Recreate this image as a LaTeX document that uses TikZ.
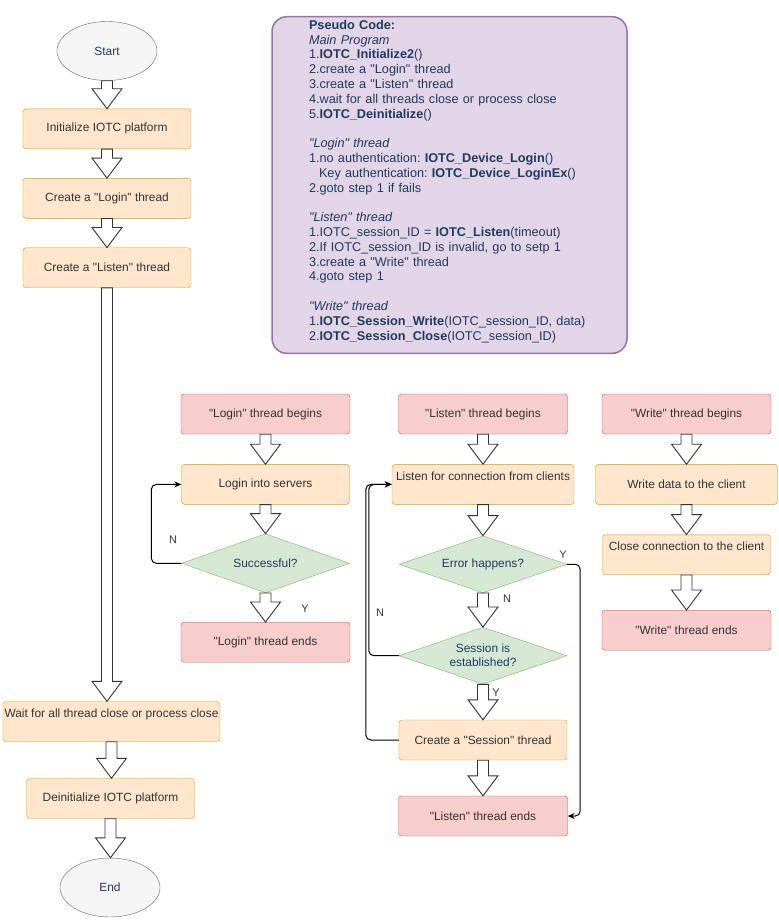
\documentclass[tikz,border=0pt]{standalone}
\usepackage{fontspec}
\setmainfont{Liberation Sans}
\frenchspacing
\usetikzlibrary{calc,positioning,shapes.geometric,arrows.meta}

\definecolor{orangefill}{HTML}{FFE6CC}
\definecolor{orangeline}{HTML}{D79B00}
\definecolor{redfill}{HTML}{F8CECC}
\definecolor{redline}{HTML}{B85450}
\definecolor{greenfill}{HTML}{D5E8D4}
\definecolor{greenline}{HTML}{82B366}
\definecolor{purplefill}{HTML}{E1D5E7}
\definecolor{purpleline}{HTML}{9673A6}
\definecolor{grayfill}{HTML}{F5F5F5}
\definecolor{grayline}{HTML}{666666}
\definecolor{txtgray}{HTML}{333333}
\definecolor{txtnavy}{HTML}{1F3A5F}

\newcommand{\dq}{\textquotedbl}
% hollow block arrow from the bottom of #1 to the top of #2
\newcommand{\flowarrow}[2]{%
  \draw[flowarrow] ($(#1.south)+(-5.5,0)$) -- ($(#1.south |- #2.north)+(-5.5,-20)$) -- ++(-9.5,0)
    -- (#1.south |- #2.north) -- ($(#1.south |- #2.north)+(15,-20)$) -- ++(-9.5,0)
    -- ($(#1.south)+(5.5,0)$) -- cycle;}

\begin{document}
\begin{tikzpicture}[
  x=1pt,y=-1pt,
  every node/.style={font=\fontsize{11.9}{14}\selectfont},
  procbox/.style={rectangle,rounded corners=3pt,draw=orangeline,fill=orangefill,text=txtgray,
    minimum width=168pt,minimum height=40pt,inner xsep=1pt,align=center},
  termbox/.style={rectangle,rounded corners=3pt,draw=redline,fill=redfill,text=txtgray,
    minimum width=169pt,minimum height=40pt,inner xsep=1pt,align=center},
  toptext/.style={text depth=16.5pt},
  decision/.style={diamond,aspect=2.8,draw=greenline,fill=greenfill,text=txtnavy,
    minimum width=168pt,minimum height=59pt,inner sep=0pt,align=center},
  startend/.style={ellipse,draw=grayline,fill=grayfill,text=txtnavy,
    minimum width=100pt,minimum height=59pt},
  codebox/.style={rectangle,rounded corners=15pt,draw=purpleline,line width=1.5pt,fill=purplefill,
    text=txtnavy,text width=281pt,inner xsep=37pt,minimum height=336pt,align=left,
    font=\fontsize{12.7}{14.8}\selectfont},
  flowarrow/.style={draw=txtgray,line width=0.9pt,fill=white,line join=miter},
  loopline/.style={draw=black,line width=1pt,rounded corners=5pt,-{Stealth[length=7pt,width=6pt]}},
  yn/.style={text=txtgray,font=\fontsize{11}{13}\selectfont,inner sep=0pt}
]
\useasboundingbox (0,0) rectangle (779,921);

% main program
\node[startend] (start) at (107,51) {Start};
\node[procbox,below=28pt of start] (init) {Initialize IOTC platform};
\node[procbox,below=29pt of init] (mklogin) {Create a \dq Login\dq{} thread};
\node[procbox,below=29pt of mklogin] (mklisten) {Create a \dq Listen\dq{} thread};
\node[procbox,toptext,minimum width=217pt] (wait) at (111.5,721.5) {Wait for all thread close or process close};
\node[procbox] (deinit) at (110.5,798.5) {Deinitialize IOTC platform};
\node[startend] (end) at (110,887.5) {End};

% pseudo code
\node[codebox] (code) at (449.5,185) {\textbf{Pseudo Code:}\\
\textit{Main Program}\\
1.\textbf{IOTC\_Initialize2}()\\
2.create a \dq Login\dq{} thread\\
3.create a \dq Listen\dq{} thread\\
4.wait for all threads close or process close\\
5.\textbf{IOTC\_Deinitialize}()\\
\mbox{}\\
\textit{\dq Login\dq{} thread}\\
1.no authentication: \textbf{IOTC\_Device\_Login}()\\
\hspace*{10pt}Key authentication: \textbf{IOTC\_Device\_LoginEx}()\\
2.goto step 1 if fails\\
\mbox{}\\
\textit{\dq Listen\dq{} thread}\\
1.IOTC\_session\_ID = \textbf{IOTC\_Listen}(timeout)\\
2.If IOTC\_session\_ID is invalid, go to setp 1\\
3.create a \dq Write\dq{} thread\\
4.goto step 1\\
\mbox{}\\
\textit{\dq Write\dq{} thread}\\
1.\textbf{IOTC\_Session\_Write}(IOTC\_session\_ID, data)\\
2.\textbf{IOTC\_Session\_Close}(IOTC\_session\_ID)\rule[-10pt]{0pt}{10pt}};

% login thread
\node[termbox] (lbegin) at (265.5,414) {\dq Login\dq{} thread begins};
\node[procbox,below=30pt of lbegin] (lserver) {Login into servers};
\node[decision,below=29pt of lserver] (lok) {Successful?};
\node[termbox,below=29pt of lok] (lend) {\dq Login\dq{} thread ends};

% listen thread
\node[termbox] (sbegin) at (483,414) {\dq Listen\dq{} thread begins};
\node[procbox,toptext,minimum width=182pt,below=30pt of sbegin] (slisten) {Listen for connection from clients};
\node[decision,minimum height=57pt,below=31pt of slisten] (serr) {Error happens?};
\node[decision,minimum height=57pt,below=34pt of serr] (sest) {Session is\\established?};
\node[procbox] (ssess) at (483,740) {Create a \dq Session\dq{} thread};
\node[termbox] (send) at (483,816) {\dq Listen\dq{} thread ends};

% write thread
\node[termbox] (wbegin) at (686.5,414) {\dq Write\dq{} thread begins};
\node[procbox,minimum width=182pt,below=30pt of wbegin] (wdata) {Write data to the client};
\node[procbox,toptext,below=30pt of wdata] (wclose) {Close connection to the client};
\node[termbox,below=35pt of wclose] (wend) {\dq Write\dq{} thread ends};

% block arrows
\flowarrow{start}{init}
\flowarrow{init}{mklogin}
\flowarrow{mklogin}{mklisten}
\flowarrow{mklisten}{wait}
\flowarrow{wait}{deinit}
\flowarrow{deinit}{end}
\flowarrow{lbegin}{lserver}
\flowarrow{lserver}{lok}
\flowarrow{lok}{lend}
\flowarrow{sbegin}{slisten}
\flowarrow{slisten}{serr}
\flowarrow{serr}{sest}
\flowarrow{sest}{ssess}
\flowarrow{ssess}{send}
\flowarrow{wbegin}{wdata}
\flowarrow{wdata}{wclose}
\flowarrow{wclose}{wend}

% loops
\draw[loopline] (lok.west) -- ++(-30,0) |- (lserver.west);
\draw[loopline] (sest.west) -- ++(-30,0) |- (slisten.west);
\draw[loopline] (ssess.west) -- ++(-33,0) |- (slisten.west);
\draw[loopline] (serr.east) -- ++(13,0) |- (send.east);

% branch labels
\node[yn] (lokn) at (173,540) {N};
\node[yn] (loky) at (305,609) {Y};
\node[yn] (serry) at (563,555) {Y};
\node[yn] (serrn) at (507,599) {N};
\node[yn] (sestn) at (380,613) {N};
\node[yn] (sesty) at (496,693) {Y};
\end{tikzpicture}
\end{document}
